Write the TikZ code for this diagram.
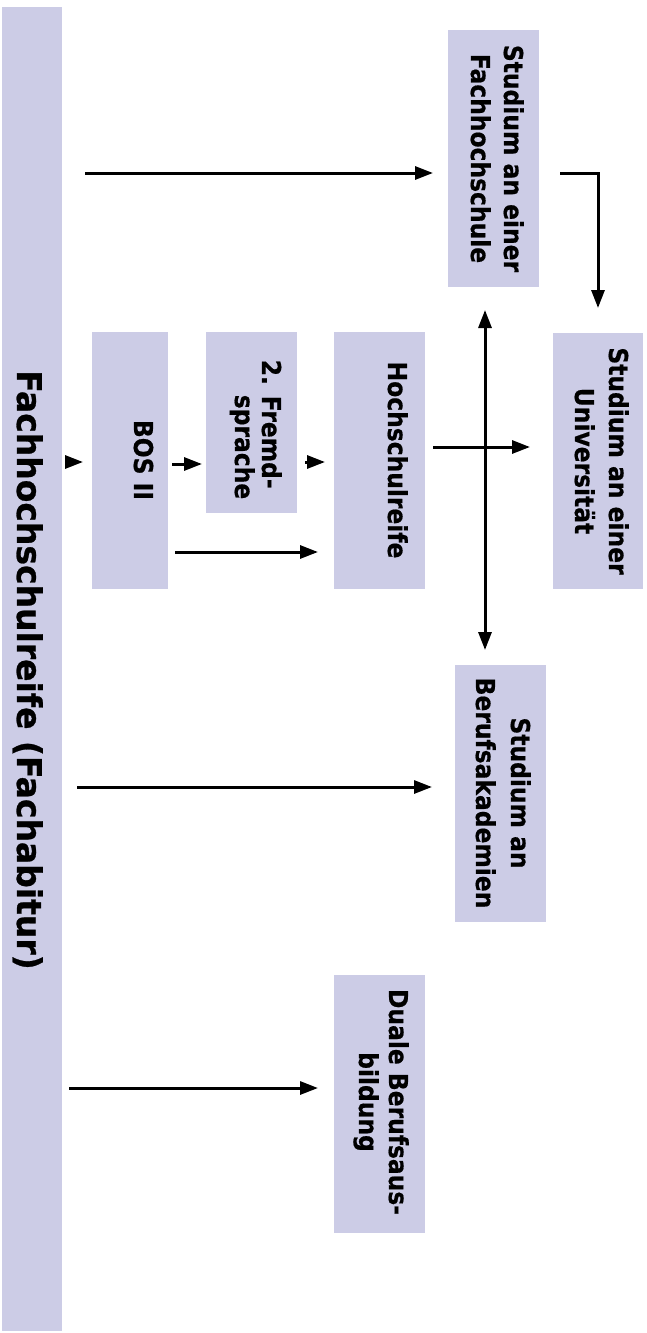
\documentclass[tikz,border=0pt]{standalone}
\usepackage{fontspec}
\setmainfont{DejaVu Sans}[FakeStretch=0.9, BoldFeatures={FakeBold=0.6}]
\newfontfamily\titlefont{DejaVu Sans}[FakeStretch=0.97, BoldFeatures={FakeBold=0.8}]
\usetikzlibrary{arrows.meta}
\definecolor{boxfill}{RGB}{204,204,230}
\begin{document}
\begin{tikzpicture}[x=1pt,y=-1pt,
  box/.style={fill=boxfill, draw=none, inner sep=0pt, outer sep=0pt},
  lbl/.style={rotate=-90, anchor=base, align=center, inner sep=0pt, text=black,
              font=\bfseries\fontsize{26}{#1}\selectfont},
  lbl/.default=33,
  conn/.style={line width=3pt, -{Triangle[length=18pt,width=13pt]}},
  dconn/.style={line width=3pt, {Triangle[length=18pt,width=13pt]}-{Triangle[length=18pt,width=13pt]}},
]
\useasboundingbox (0,0) rectangle (647,1333);

% boxes
\node[box, minimum width=60pt, minimum height=1324pt] (main) at (32,669) {};
\node[box, minimum width=76pt, minimum height=257pt] (bos) at (130,460.5) {};
\node[box, minimum width=91pt, minimum height=181pt] (fremd) at (251.5,422.5) {};
\node[box, minimum width=91pt, minimum height=257pt] (hsr) at (379.5,460.5) {};
\node[box, minimum width=91pt, minimum height=257pt] (fh) at (493.5,158.5) {};
\node[box, minimum width=90pt, minimum height=256pt] (uni) at (598,461) {};
\node[box, minimum width=91pt, minimum height=257pt] (ba) at (500.5,793.5) {};
\node[box, minimum width=91pt, minimum height=258pt] (duale) at (379.5,1104) {};

% texts (anchor = baseline of the last line)
\node[rotate=-90, anchor=base, inner sep=0pt, font=\titlefont\bfseries\fontsize{34}{40}\selectfont] (maintxt) at (17,670) {Fachhochschulreife (Fachabitur)};
\node[lbl] (bostxt) at (134,460) {BOS II};
\node[lbl=27, align=left] (fremdtxt) at (235,429.5) {2. Fremd-\\\hspace*{35pt}sprache};
\node[lbl] (hsrtxt) at (388,460) {Hochschulreife};
\node[lbl=33] (fhtxt) at (471,158.5) {Studium an einer\\Fachhochschule};
\node[lbl=34] (unitxt) at (575,461) {Studium an einer\\Universität};
\node[lbl=35] (batxt) at (476,793) {Studium an\\Berufsakademien};
\node[lbl=30] (dualetxt) at (359,1102) {Duale Berufsaus-\\bildung};

% connector end points
\coordinate (m1) at (85,173);   \coordinate (f1) at (433,173);
\coordinate (f2) at (560,173);  \coordinate (u1) at (598,308);
\coordinate (v1) at (485,310);  \coordinate (v2) at (485,650);
\coordinate (h1) at (433,447);  \coordinate (u2) at (530,447);
\coordinate (fr1) at (305,462); \coordinate (h2) at (325,462);
\coordinate (b1) at (172,464);  \coordinate (fr2) at (202,464);
\coordinate (b2) at (175,552);  \coordinate (h3) at (318,552);
\coordinate (m2) at (65,462);   \coordinate (b3) at (83,462);
\coordinate (m3) at (77,787);   \coordinate (ba1) at (432,787);
\coordinate (m4) at (69,1088);  \coordinate (d1) at (318,1088);

% connectors
\draw[conn] (m1) -- (f1);
\draw[conn] (f2) -| (u1);
\draw[dconn] (v1) -- (v2);
\draw[conn] (h1) -- (u2);
\draw[conn] (fr1) -- (h2);
\draw[conn] (b1) -- (fr2);
\draw[conn] (b2) -- (h3);
\draw[conn] (m2) -- (b3);
\draw[conn] (m3) -- (ba1);
\draw[conn] (m4) -- (d1);
\end{tikzpicture}
\end{document}
